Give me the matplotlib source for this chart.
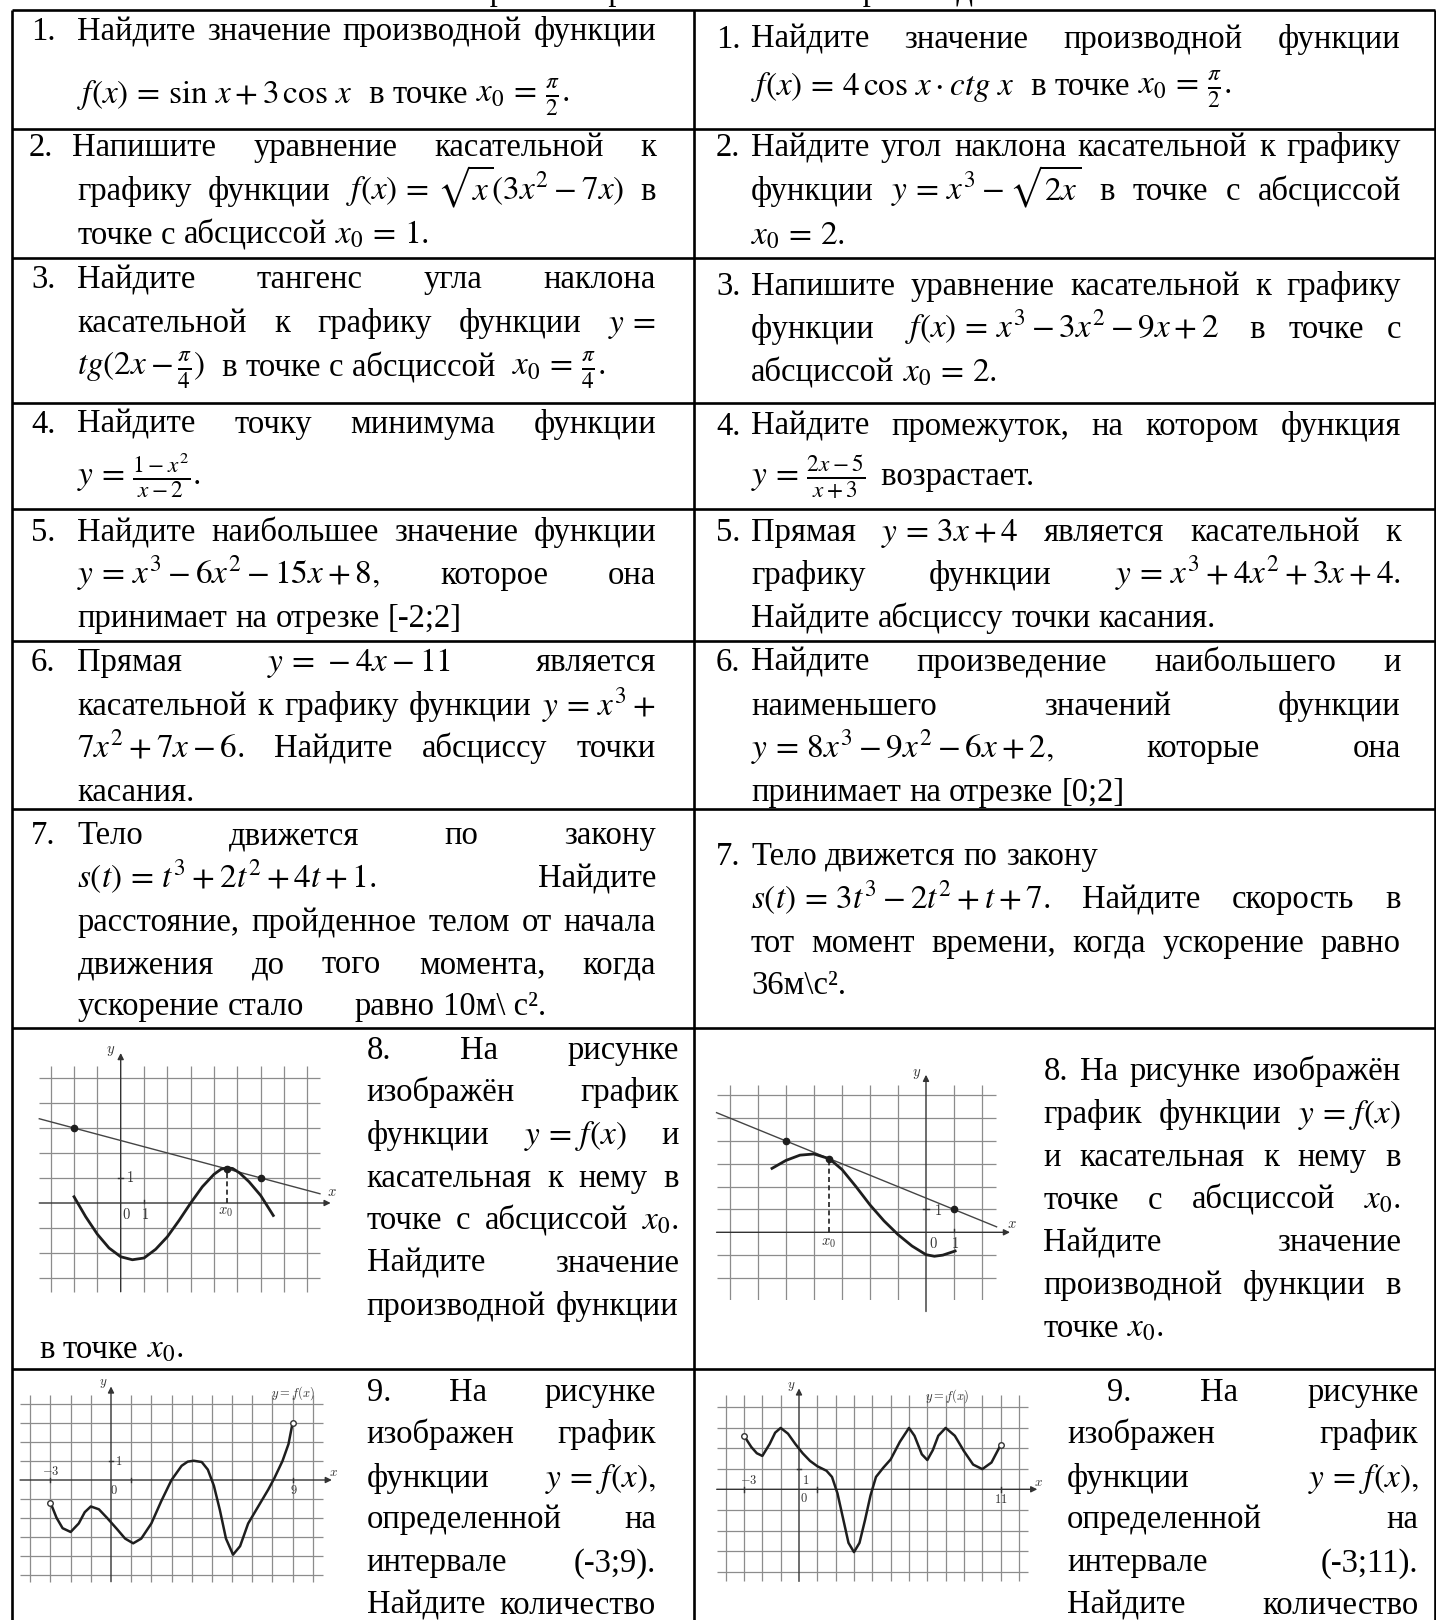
import matplotlib
matplotlib.use('Agg')
import matplotlib.pyplot as plt

plt.rcParams['font.family'] = ['Liberation Serif', 'DejaVu Serif']
plt.rcParams['mathtext.fontset'] = 'stix'

W, H = 1436, 1620          # output pixels
SW, SH = 1390, 1568        # layout units
K = W / SW
FS = 23.5                  # body font size, pt
MF = 1.02                  # formulas a touch larger than the body text

# ---- graph data (grid units) ----
g8l_x = [-2, -1.5, -1, -0.5, 0, 0.5, 1, 1.5, 2, 2.5, 3, 3.5, 4, 4.3, 4.54, 4.8, 5.1, 5.5, 6, 6.54]
g8l_y = [0.25, -0.55, -1.25, -1.8, -2.15, -2.27, -2.2, -1.85, -1.35, -0.7, 0.0, 0.65, 1.15, 1.35, 1.41, 1.38, 1.2, 0.85, 0.3, -0.5]
g8l_tan = ([-3.49, 8.54], [3.37, 0.37])
g8l_dots = ([-2, 4.54, 6], [3, 1.37, 1])

g8r_x = [-5.5, -5, -4.5, -4, -3.45, -3, -2.5, -2, -1.5, -1, -0.5, 0, 0.3, 0.6, 1.04]
g8r_y = [2.8, 3.15, 3.38, 3.43, 3.22, 2.75, 2.0, 1.2, 0.5, -0.1, -0.6, -0.98, -1.05, -1.0, -0.82]
g8r_tan = ([-7.48, 2.52], [5.24, 0.24])
g8r_dots = ([-5, -3.45, 1], [4, 3.22, 1])

g9l_x = [-3, -2.7, -2.4, -2, -1.6, -1.3, -1, -0.6, -0.2, 0.3, 0.7, 1.1, 1.5, 2, 2.5, 3, 3.5, 3.8,
         4.1, 4.5, 4.8, 5.1, 5.4, 5.7, 6.05, 6.4, 6.8, 7.3, 7.8, 8.1, 8.5, 8.8, 9]
g9l_y = [-1.2, -2.0, -2.55, -2.75, -2.3, -1.7, -1.4, -1.55, -2.0, -2.6, -3.1, -3.35, -3.1, -2.3, -1.1,
         0.0, 0.75, 0.97, 1.02, 0.95, 0.55, -0.3, -1.6, -3.1, -3.95, -3.5, -2.3, -1.4, -0.5, 0.1,
         1.0, 1.9, 3.0]

g9r_x = [-3, -2.6, -2.3, -2, -1.6, -1.3, -1, -0.6, -0.2, 0.2, 0.6, 1, 1.5, 1.8, 2.1, 2.4, 2.7, 3,
         3.3, 3.6, 3.9, 4.2, 4.6, 5, 5.5, 6, 6.3, 6.7, 7, 7.3, 7.6, 8, 8.5, 9, 9.5, 10, 10.5, 11]
g9r_y = [2.6, 2.05, 1.75, 1.62, 2.2, 2.75, 2.98, 2.7, 2.2, 1.75, 1.38, 1.12, 0.9, 0.6, -0.2, -1.4,
         -2.6, -3.05, -2.6, -1.5, -0.3, 0.6, 1.05, 1.45, 2.3, 2.98, 2.6, 1.7, 1.42, 1.9, 2.6, 2.98,
         2.6, 1.85, 1.2, 0.98, 1.3, 2.15]

# ---- table text ----
row_lines = [10, 125, 250, 390, 493, 620, 783, 995, 1325]
col_lines = [12, 672, 1389]

L0, L1, R0, R1 = 75, 635, 727, 1356
cells = [
    ("1.", 30, 39, [(39, L0, L1, ["Найдите", "значение", "производной", "функции"], True),
                    (100, L0, L1, [r"$f(x) = \sin\,x + 3\,\cos\,x$", " в", "точке", r"$x_0 = \frac{\pi}{2}.$"], False)]),
    ("1.", 693, 46, [(46, R0, R1, ["Найдите", "значение", "производной", "функции"], True),
                     (92, R0, R1, [r"$f(x) = 4\,\cos\,x \cdot ctg\ x$", " в", "точке", r"$x_0 = \frac{\pi}{2}.$"], False)]),
    ("2.", 28, 151, [(151, 70, L1, ["Напишите", "уравнение", "касательной", "к"], True),
                     (194, L0, L1, ["графику", "функции", r"$f(x) = \sqrt{x}(3x^2 - 7x)$", "в"], True),
                     (236, L0, L1, ["точке", "с", "абсциссой", r"$x_0 = 1.$"], False)]),
    ("2.", 693, 151, [(151, R0, R1, ["Найдите", "угол", "наклона", "касательной", "к", "графику"], True),
                      (194, R0, R1, ["функции", r"$y = x^3 - \sqrt{2x}$", "в", "точке", "с", "абсциссой"], True),
                      (237, R0, R1, [r"$x_0 = 2.$"], False)]),
    ("3.", 30, 279, [(279, L0, L1, ["Найдите", "тангенс", "угла", "наклона"], True),
                     (321, L0, L1, ["касательной", "к", "графику", "функции", r"$y =$"], True),
                     (364, L0, L1, [r"$tg(2x - \frac{\pi}{4})$", " в", "точке", "с", "абсциссой ",
                                    r"$x_0 = \frac{\pi}{4}.$"], False)]),
    ("3.", 693, 286, [(286, R0, R1, ["Напишите", "уравнение", "касательной", "к", "графику"], True),
                      (327, R0, R1, ["функции ", r"$f(x) = x^3 - 3x^2 - 9x + 2$", " в", "точке", "с"], True),
                      (369, R0, R1, ["абсциссой", r"$x_0 = 2.$"], False)]),
    ("4.", 30, 419, [(419, L0, L1, ["Найдите", "точку", "минимума", "функции"], True),
                     (469, L0, L1, [r"$y = \frac{1 - x^2}{x - 2}.$"], False)]),
    ("4.", 693, 421, [(421, R0, R1, ["Найдите", "промежуток,", "на", "котором", "функция"], True),
                      (469, R0, R1, [r"$y = \frac{2x - 5}{x + 3}$", " возрастает."], False)]),
    ("5.", 30, 524, [(524, L0, L1, ["Найдите", "наибольшее", "значение", "функции"], True),
                     (565, L0, L1, [r"$y = x^3 - 6x^2 - 15x + 8,$", "которое", "она"], True),
                     (607, L0, L1, ["принимает", "на", "отрезке", "[-2;2]"], False)]),
    ("5.", 693, 524, [(524, R0, R1, ["Прямая", r"$y = 3x + 4$", "является", "касательной", "к"], True),
                      (565, R0, R1, ["графику", "функции", r"$y = x^3 + 4x^2 + 3x + 4.$"], True),
                      (607, R0, R1, ["Найдите", "абсциссу", "точки", "касания."], False)]),
    ("6.", 30, 649, [(649, L0, L1, ["Прямая", r"$y = -4x - 11$", "является"], True),
                     (692, L0, L1, ["касательной", "к", "графику", "функции", r"$y = x^3 +$"], True),
                     (733, L0, L1, [r"$7x^2 + 7x - 6.$", "Найдите", "абсциссу", "точки"], True),
                     (775, L0, L1, ["касания."], False)]),
    ("6.", 693, 649, [(649, R0, R1, ["Найдите", "произведение", "наибольшего", "и"], True),
                      (692, R0, R1, ["наименьшего", "значений", "функции"], True),
                      (733, R0, R1, [r"$y = 8x^3 - 9x^2 - 6x + 2,$", "которые", "она"], True),
                      (775, R0, R1, ["принимает", "на", "отрезке", "[0;2]"], False)]),
    ("7.", 30, 817, [(817, L0, L1, ["Тело", "движется", "по", "закону"], True),
                     (859, L0, L1, [r"$s(t) = t^3 + 2t^2 + 4t + 1.$", "Найдите"], True),
                     (901, L0, L1, ["расстояние,", "пройденное", "телом", "от", "начала"], True),
                     (942, L0, L1, ["движения", "до", "того", "момента,", "когда"], True),
                     (982, L0, L1, ["ускорение", "стало"], False),
                     (982, 343, L1, ["равно", "10м\\ с²."], False)]),
    ("7.", 693, 837, [(837, R0, R1, ["Тело", "движется", "по", "закону"], False),
                      (879, R0, R1, [r"$s(t) = 3t^3 - 2t^2 + t + 7.$", "Найдите", "скорость", "в"], True),
                      (921, R0, R1, ["тот", "момент", "времени,", "когда", "ускорение", "равно"], True),
                      (962, R0, R1, ["36м\\с²."], False)]),
    (None, 0, 0, [(1025, 355, 657, ["8.", "На", "рисунке"], True),
                  (1066, 355, 657, ["изображён", "график"], True),
                  (1107, 355, 657, ["функции", r"$y = f(x)$", "и"], True),
                  (1149, 355, 657, ["касательная", "к", "нему", "в"], True),
                  (1190, 355, 657, ["точке", "с", "абсциссой", r"$x_0.$"], True),
                  (1231, 355, 657, ["Найдите", "значение"], True),
                  (1273, 355, 657, ["производной", "функции"], True),
                  (1314, 38, 657, ["в", "точке", r"$x_0.$"], False)]),
    (None, 0, 0, [(1045, 1010, R1, ["8.", "На", "рисунке", "изображён"], True),
                  (1087, 1010, R1, ["график", "функции", r"$y = f(x)$"], True),
                  (1129, 1010, R1, ["и", "касательная", "к", "нему", "в"], True),
                  (1170, 1010, R1, ["точке", "с", "абсциссой", r"$x_0.$"], True),
                  (1211, 1010, R1, ["Найдите", "значение"], True),
                  (1252, 1010, R1, ["производной", "функции", "в"], True),
                  (1294, 1010, R1, ["точке", r"$x_0.$"], False)]),
    (None, 0, 0, [(1356, 355, 635, ["9.", "На", "рисунке"], True),
                  (1397, 355, 635, ["изображен", "график"], True),
                  (1439, 355, 635, ["функции", r"$y = f(x),$"], True),
                  (1479, 355, 635, ["определенной", "на"], True),
                  (1521, 355, 635, ["интервале", "(-3;9)."], True),
                  (1562, 355, 635, ["Найдите", "количество"], True)]),
    (None, 0, 0, [(1356, 1072, 1373, ["9.", "На", "рисунке"], True),
                  (1397, 1033, 1373, ["изображен", "график"], True),
                  (1439, 1033, 1373, ["функции", r"$y = f(x),$"], True),
                  (1479, 1033, 1373, ["определенной", "на"], True),
                  (1521, 1033, 1373, ["интервале", "(-3;11)."], True),
                  (1562, 1033, 1373, ["Найдите", "количество"], True)]),
]

fig = plt.figure(figsize=(W / 100, H / 100), dpi=100)
ax = fig.add_axes([0, 0, 1, 1])
ax.set_xlim(0, SW)
ax.set_ylim(SH, 0)
ax.axis('off')
renderer = fig.canvas.get_renderer()


def spaced(s):
    # a little air round "=" like Word's equation editor
    if '$' not in s:
        return s
    return s.replace(' = ', r'\,=\,').replace(' =$', r'\,=$')


def put_line(y, x0, x1, parts, justify=True, fs=FS):
    ts = [ax.text(0, y, spaced(p), fontsize=fs * (MF if '$' in p else 1.0),
                  va='baseline', ha='left', color='black') for p in parts]
    ws = [t.get_window_extent(renderer).width / K for t in ts]
    if justify and len(ts) > 1:
        gap = (x1 - x0 - sum(ws)) / (len(ts) - 1)
    else:
        gap = 0.25 * fs * 100 / 72 / K
    x = x0
    for t, w in zip(ts, ws):
        t.set_x(x)
        x += w + gap


# table frame
ax.hlines(row_lines, col_lines[0], col_lines[-1], color='black', lw=1.9)
ax.vlines(col_lines, row_lines[0], SH + 5, color='black', lw=1.9)

# heading of the page, only its lowest part is on the sheet
ax.text(705, 0, "Контрольная работа по теме «Производная»", fontsize=FS,
        ha='center', va='baseline')

for num, nx, ny, lines in cells:
    if num:
        ax.text(nx, ny, num, fontsize=FS, va='baseline', ha='left')
    for y, x0, x1, parts, just in lines:
        put_line(y, x0, x1, parts, just)


# ---- small graphs ----
GRID = '#8c8c8c'
INK = '#1e1e1e'


def graph(box, origin, unit, gx, gy, xspan, yspan, xarrow, yarrow):
    x0, y0, x1, y1 = box
    ox, oy = origin
    ux, uy = unit
    g = fig.add_axes([x0 / W, 1 - y1 / H, (x1 - x0) / W, (y1 - y0) / H])
    g.set_xlim((x0 - ox) / ux, (x1 - ox) / ux)
    g.set_ylim((oy - y1) / uy, (oy - y0) / uy)
    g.axis('off')
    g.vlines([v for v in gx if v != 0], yspan[0], yspan[1], color=GRID, lw=0.9, zorder=1)
    g.hlines([v for v in gy if v != 0], xspan[0], xspan[1], color=GRID, lw=0.9, zorder=1)
    g.annotate('', xy=(xarrow, 0), xytext=(xspan[0], 0),
               arrowprops=dict(arrowstyle='-|>', color='#333', lw=1.0, mutation_scale=9,
                               shrinkA=0, shrinkB=0), zorder=2)
    g.annotate('', xy=(0, yarrow), xytext=(0, yspan[0]),
               arrowprops=dict(arrowstyle='-|>', color='#333', lw=1.0, mutation_scale=9,
                               shrinkA=0, shrinkB=0), zorder=2)
    return g


def lab(g, x, y, s, size=10.5, ha='center', va='center'):
    g.text(x, y, s, fontsize=size, ha=ha, va=va, color='#333', math_fontfamily='cm')


# 8, left
g = graph((28, 1038, 345, 1300), (120.7, 1203), (23.33, 25.0),
          range(-3, 9), range(-3, 6), (-3.49, 8.54), (-3.55, 5.5), 9.0, 6.0)
g.plot(g8l_tan[0], g8l_tan[1], color='#444', lw=1.0, zorder=3)
g.plot(g8l_x, g8l_y, color=INK, lw=2.0, zorder=4)
g.plot([4.54, 4.54], [0, 1.37], color=INK, lw=1.2, ls=(0, (3, 2)), zorder=3)
g.plot(g8l_dots[0], g8l_dots[1], 'o', color=INK, ms=4.5, zorder=5)
g.plot([-0.12, 0.12], [1, 1], color='#333', lw=1)
g.plot([1, 1], [0, 0.12], color='#333', lw=1)
lab(g, -0.45, 6.1, r"$y$")
lab(g, 9.05, 0.4, r"$x$")
lab(g, 0.42, 1.0, r"$1$")
lab(g, 0.23, -0.45, r"$0$")
lab(g, 1.03, -0.45, r"$1$")
lab(g, 4.5, -0.38, r"$x_0$")

# 8, right
g = graph((708, 1060, 1030, 1300), (926, 1232.3), (28.0, 22.83),
          range(-7, 3), range(-3, 7), (-7.48, 2.5), (-3.47, 6.45), 3.0, 6.9)
g.plot(g8r_tan[0], g8r_tan[1], color='#444', lw=1.0, zorder=3)
g.plot(g8r_x, g8r_y, color=INK, lw=2.0, zorder=4)
g.plot([-3.45, -3.45], [0, 3.22], color=INK, lw=1.2, ls=(0, (3, 2)), zorder=3)
g.plot(g8r_dots[0], g8r_dots[1], 'o', color=INK, ms=4.5, zorder=5)
g.plot([-0.12, 0.12], [1, 1], color='#333', lw=1)
g.plot([1, 1], [0, 0.15], color='#333', lw=1)
lab(g, -0.33, 6.95, r"$y$")
lab(g, 3.05, 0.35, r"$x$")
lab(g, 0.42, 0.95, r"$1$")
lab(g, 0.26, -0.5, r"$0$")
lab(g, 1.04, -0.5, r"$1$")
lab(g, -3.49, -0.5, r"$x_0$")

# 9, left
g = graph((18, 1382, 345, 1590), (111, 1480), (20.17, 18.9),
          range(-4, 11), range(-5, 5), (-4.51, 10.53), (-5.38, 4.5), 10.95, 4.95)
g.plot(g9l_x, g9l_y, color=INK, lw=1.8, zorder=4)
g.plot([-3, 9], [-1.2, 3.0], 'o', mfc='white', mec='#333', ms=4, zorder=5)
for xv in (-3, 1, 9):
    g.plot([xv, xv], [-0.12, 0.12], color='#333', lw=1)
g.plot([-0.12, 0.12], [1, 1], color='#333', lw=1)
lab(g, -0.4, 5.1, r"$y$", 9.5)
lab(g, 11.05, 0.35, r"$x$", 9.5)
lab(g, -3.0, 0.45, r"$-3$", 9)
lab(g, 0.15, -0.55, r"$0$", 9)
lab(g, 0.38, 0.97, r"$1$", 9)
lab(g, 9.04, -0.55, r"$9$", 9)
lab(g, 9.04, 4.6, r"$y = f(x)$", 9)

# 9, right
g = graph((705, 1382, 1045, 1590), (799, 1489.3), (18.33, 20.6),
          range(-4, 13), range(-4, 5), (-4.49, 12.5), (-4.47, 4.56), 13.0, 4.9)
g.plot(g9r_x, g9r_y, color=INK, lw=1.8, zorder=4)
g.plot([-3, 11], [2.6, 2.15], 'o', mfc='white', mec='#333', ms=4, zorder=5)
for xv in (-3, 1, 11):
    g.plot([xv, xv], [-0.12, 0.12], color='#333', lw=1)
g.plot([-0.12, 0.12], [1, 1], color='#333', lw=1)
lab(g, -0.45, 5.0, r"$y$", 9.5)
lab(g, 13.05, 0.3, r"$x$", 9.5)
lab(g, -2.75, 0.45, r"$-3$", 9)
lab(g, 0.38, 0.45, r"$1$", 9)
lab(g, 0.25, -0.45, r"$0$", 9)
lab(g, 11.02, -0.5, r"$11$", 9)
lab(g, 8.05, 4.5, r"$y = f(x)$", 9)

fig.savefig('out.png', dpi=100)
